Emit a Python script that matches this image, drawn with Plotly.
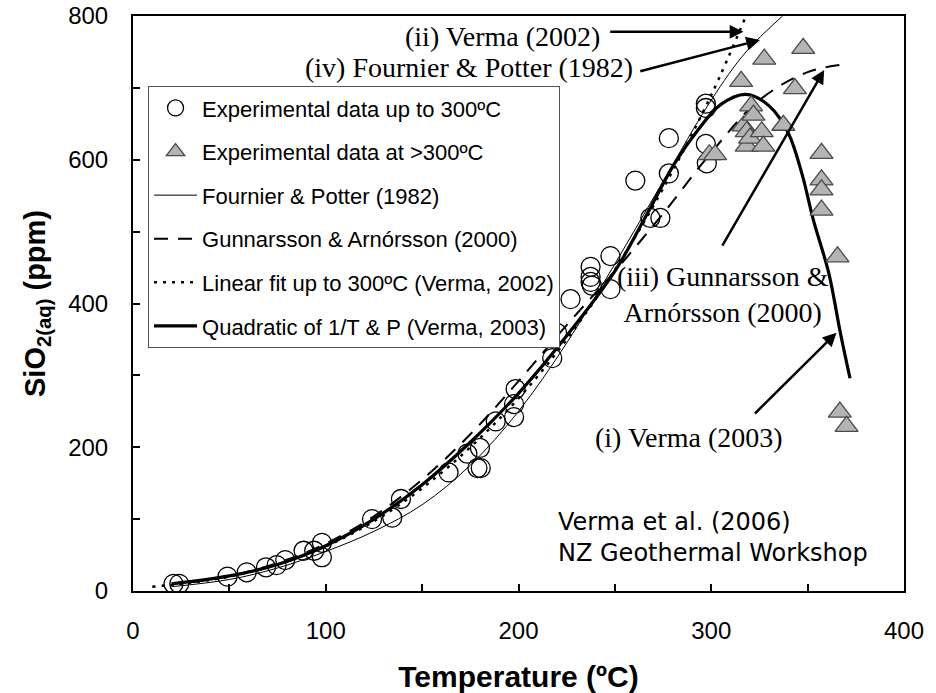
import plotly.graph_objects as go

# Experimental quartz solubility data up to 300 ºC
exp_low_T = [21, 24, 49, 59, 69, 74.5, 79, 88.5, 94, 98, 98, 124, 134.5, 139,
             163.7, 173.5, 180, 178.7, 180.4, 188.2, 197.7, 197.7, 198.5,
             217.5, 220, 227, 237.4, 237.4, 237.4, 238, 247.7, 247.7,
             260.6, 268.4, 273.6, 278, 278, 297.2, 297.2, 297.2, 297.7]
exp_low_S = [10, 10, 20, 26, 33, 36, 43, 56, 56, 67, 47, 100, 102, 128,
             165, 191, 199, 171, 171, 236, 242, 260, 281,
             324, 359, 406, 451, 437, 430, 425, 466, 420,
             571, 519, 519, 581, 630, 678, 672, 622, 595]

# Experimental data above 300 ºC
exp_high_T = [299, 302, 315.5, 316.7, 318.4, 318.4, 320.1, 320.7, 321.9,
              326.2, 327, 327.5, 337.4, 343.4, 347.7, 357.2, 357.2, 357.2,
              357.2, 365.5, 366.7, 370.2]
exp_high_S = [607, 607, 709, 647, 639, 619, 630, 675, 662,
              639, 619, 740, 648, 699, 755, 609, 572, 558,
              530, 465, 249, 229]

# Fournier & Potter (1982)
fp_T = [20, 50, 75, 100, 125, 150, 175, 200, 225, 250, 275, 300, 318, 337]
fp_S = [6, 16, 32, 55, 83, 120, 175, 250, 345, 455, 570, 683, 750, 800]

# Gunnarsson & Arnórsson (2000)
ga_T = [30, 50, 75, 100, 125, 150, 175, 200, 225, 250, 275, 300, 325, 350, 370]
ga_S = [12, 21, 39, 66, 104, 155, 218, 292, 370, 445, 525, 610, 683, 722, 733]

# Linear fit up to 300 ºC (Verma, 2002)
v02_T = [10, 25, 50, 75, 100, 125, 150, 175, 200, 225, 250, 275, 300, 318]
v02_S = [6, 10, 20, 37, 62, 97, 143, 200, 268, 350, 447, 560, 690, 800]

# Quadratic of 1/T & P (Verma, 2003)
v03_T = [20, 50, 75, 100, 125, 150, 175, 200, 225, 250, 266, 281, 293, 305,
         318, 330, 340, 347, 353, 361, 367, 372]
v03_S = [10, 21, 37, 63, 100, 148, 207, 275, 355, 445, 521, 595, 641, 677,
         691, 675, 637, 581, 516, 442, 359, 296]

x_ticks = [0, 100, 200, 300, 400]
y_ticks = [0, 200, 400, 600, 800]

SANS = "Liberation Sans, Arial, sans-serif"
LEG_FONT = dict(family=SANS, size=22, color="black")
SERIF = dict(family="Liberation Serif, Times New Roman, serif", size=28, color="black")

fig = go.Figure()

fig.add_trace(go.Scatter(
    x=fp_T, y=fp_S, mode="lines", name="Fournier & Potter (1982)",
    line=dict(color="black", width=1, shape="spline", smoothing=1.0),
    legendgroup="fp", legendrank=3))
fig.add_trace(go.Scatter(
    x=ga_T, y=ga_S, mode="lines", name="Gunnarsson & Arnórsson (2000)",
    line=dict(color="black", width=2, dash="14px,10px", shape="spline", smoothing=1.0),
    legendgroup="ga", legendrank=4))
fig.add_trace(go.Scatter(
    x=v02_T, y=v02_S, mode="lines", name="Linear fit up to 300ºC (Verma, 2002)",
    line=dict(color="black", width=2.5, dash="3px,6px", shape="spline", smoothing=1.0),
    legendgroup="v02", legendrank=5))
fig.add_trace(go.Scatter(
    x=v03_T, y=v03_S, mode="lines", name="Quadratic of 1/T & P (Verma, 2003)",
    line=dict(color="black", width=3.2, shape="spline", smoothing=1.0),
    legendgroup="v03", legendrank=6))
fig.add_trace(go.Scatter(
    x=exp_low_T, y=exp_low_S, mode="markers", name="Experimental data up to 300ºC",
    marker=dict(symbol="circle-open", size=19, color="black", line=dict(width=1.3)),
    legendgroup="low", legendrank=1))
fig.add_trace(go.Scatter(
    x=exp_high_T, y=exp_high_S, mode="markers", name="Experimental data at >300ºC",
    marker=dict(symbol="triangle-up", size=20, color="#b4b4b4",
                line=dict(width=1.3, color="#4a4a4a")),
    legendgroup="high", legendrank=2))

axis_common = dict(
    showline=True, linecolor="black", linewidth=2, mirror=True,
    ticks="inside", ticklen=7, tickwidth=2, tickcolor="black",
    showgrid=False, zeroline=False, automargin=False,
    tickfont=dict(family=SANS, size=24, color="black"),
)

fig.update_xaxes(
    range=[0, 400], tickvals=x_ticks, ticktext=[str(v) for v in x_ticks],
    minor=dict(dtick=50, ticks="inside", ticklen=7, tickwidth=2, tickcolor="black"),
    ticklabelstandoff=17,
    title=dict(text="<b>Temperature (ºC)</b>", standoff=27,
               font=dict(family=SANS, size=30, color="black")),
    **axis_common)
fig.update_yaxes(
    range=[0, 800], tickvals=y_ticks, ticktext=[str(v) for v in y_ticks],
    minor=dict(dtick=100, ticks="inside", ticklen=7, tickwidth=2, tickcolor="black"),
    ticklabelstandoff=18,
    title=dict(text="<b>SiO<sub>2(aq)</sub> (ppm)</b>", standoff=14,
               font=dict(family=SANS, size=29, color="black")),
    **axis_common)

arrow = dict(xref="x", yref="y", axref="x", ayref="y", showarrow=True,
             arrowhead=2, arrowsize=1.1, arrowwidth=2.5, arrowcolor="black",
             standoff=0, startstandoff=0, text="")

annotations = [
    dict(x=316.7, y=778, ax=246.8, ay=778, **arrow),
    dict(x=325.3, y=766.6, ax=262.4, ay=722.5, **arrow),
    dict(x=358.6, y=725, ax=305.3, ay=478.6, **arrow),
    dict(x=365, y=359.4, ax=321.9, ay=244.9, **arrow),
    dict(x=191.5, y=771, xref="x", yref="y", text="(ii) Verma (2002)",
         showarrow=False, font=SERIF),
    dict(x=174.4, y=729, xref="x", yref="y", text="(iv) Fournier & Potter (1982)",
         showarrow=False, font=SERIF),
    dict(x=306.3, y=413, xref="x", yref="y", text="(iii) Gunnarsson &<br>Arnórsson (2000)",
         showarrow=False, font=SERIF, align="center"),
    dict(x=288.2, y=213, xref="x", yref="y", text="(i) Verma (2003)",
         showarrow=False, font=SERIF),
    dict(x=219.4, y=75, xref="x", yref="y", xanchor="left",
         text="Verma et al. (2006)<br>NZ Geothermal Workshop", align="left",
         showarrow=False,
         font=dict(family="DejaVu Sans, Verdana, sans-serif", size=24, color="black")),
]

fig.update_layout(
    width=936, height=693,
    margin=dict(l=133, r=32, t=16, b=102),
    paper_bgcolor="white", plot_bgcolor="white",
    annotations=annotations,
    showlegend=True,
    legend=dict(
        x=0.0195, y=0.878, xanchor="left", yanchor="top",
        bgcolor="white", bordercolor="#555555", borderwidth=1,
        font=LEG_FONT, traceorder="grouped", tracegroupgap=12,
        itemwidth=43, itemsizing="trace",
    ),
)

fig.write_html("out.html")
